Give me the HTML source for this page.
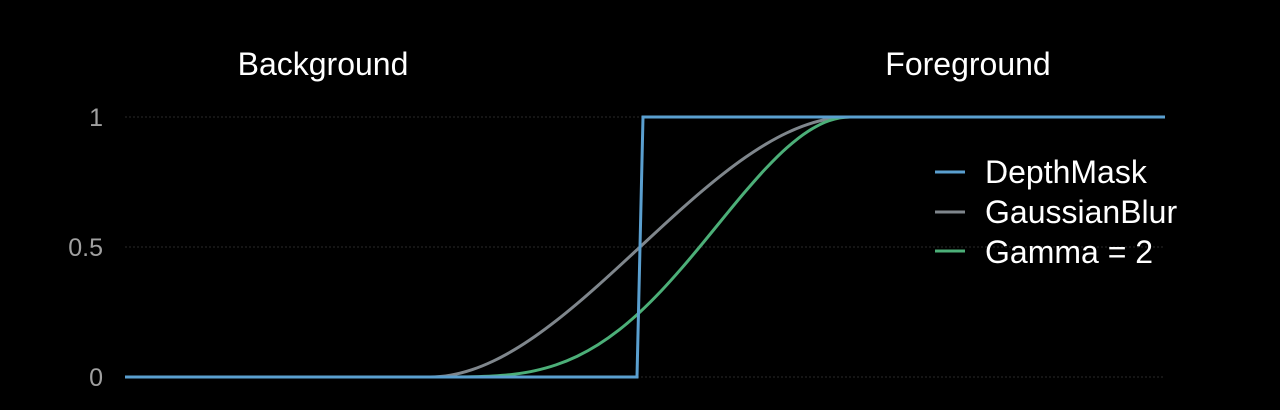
<!DOCTYPE html>
<html><head><meta charset="utf-8"><style>
html,body{margin:0;padding:0;background:#000;width:1280px;height:410px;overflow:hidden}
svg{display:block;font-family:"Liberation Sans",sans-serif}
</style></head><body>
<svg id="chart" width="1280" height="410">
<text x="323" y="75" fill="#fff" font-size="32" text-anchor="middle">Background</text>
<text x="968" y="75" fill="#fff" font-size="32" text-anchor="middle">Foreground</text>
<g id="grid"></g><g id="ticks"></g><g id="series"></g>
<g>
<line x1="935" y1="172" x2="965" y2="172" stroke="#5a9fcf" stroke-width="3"/>
<text x="985" y="183" fill="#fff" font-size="32">DepthMask</text>
<line x1="935" y1="212" x2="965" y2="212" stroke="#7f868c" stroke-width="3"/>
<text x="985" y="223" fill="#fff" font-size="32">GaussianBlur</text>
<line x1="935" y1="251" x2="965" y2="251" stroke="#4caf78" stroke-width="3"/>
<text x="985" y="263" fill="#fff" font-size="32">Gamma = 2</text>
</g>
</svg>
<script>
const tickValues=[0,0.5,1];
const tickLabels=["0","0.5","1"];
const maskX=[0,512,518,1040];
const maskY=[0,0,1,1];
const curveX=[0,305,326,347,368,389,410,431,452,473,494,515,536,557,578,599,620,641,662,683,704,725,1040];
const blurY=[0,0,0.00725,0.028,0.06075,0.104,0.15625,0.216,0.28175,0.352,0.42525,0.5,0.57475,0.648,0.71825,0.784,0.84375,0.896,0.93925,0.972,0.99275,1,1];
const gammaY=[0,0,0.00005,0.0008,0.0037,0.0108,0.0244,0.0467,0.0794,0.1239,0.1808,0.25,0.3303,0.4199,0.5159,0.6147,0.7119,0.8028,0.8822,0.9448,0.9856,1,1];
const sx=t=>125+t;
const sy=v=>377-v*260;
const NS="http://www.w3.org/2000/svg";
const grid=document.getElementById('grid'),ticks=document.getElementById('ticks'),ser=document.getElementById('series');
tickValues.forEach((v,i)=>{
 const l=document.createElementNS(NS,'line');
 l.setAttribute('x1',125);l.setAttribute('x2',1165);l.setAttribute('y1',sy(v));l.setAttribute('y2',sy(v));
 l.setAttribute('stroke','#2a2a2a');l.setAttribute('stroke-dasharray','2 2');
 
 
 grid.appendChild(l);
 const t=document.createElementNS(NS,'text');
 t.setAttribute('x',103);t.setAttribute('y',sy(v)+9);t.setAttribute('text-anchor','end');
 t.setAttribute('fill','#a0a0a0');t.setAttribute('font-size','25');t.textContent=tickLabels[i];
 
 
 ticks.appendChild(t);
});
function monotone(xs,ys){
 const n=xs.length,X=xs.map(sx),Y=ys.map(sy),d=[],m=[];
 for(let i=0;i<n-1;i++)d.push((Y[i+1]-Y[i])/(X[i+1]-X[i]));
 m[0]=d[0];m[n-1]=d[n-2];
 for(let i=1;i<n-1;i++){m[i]=(d[i-1]*d[i]<=0)?0:(d[i-1]+d[i])/2;}
 for(let i=0;i<n-1;i++){
  if(d[i]===0){m[i]=0;m[i+1]=0;continue;}
  const a=m[i]/d[i],b=m[i+1]/d[i],s=a*a+b*b;
  if(s>9){const t=3/Math.sqrt(s);m[i]=t*a*d[i];m[i+1]=t*b*d[i];}
 }
 let p='M'+X[0]+','+Y[0];
 for(let i=0;i<n-1;i++){
  const h=(X[i+1]-X[i])/3;
  p+=` C${X[i]+h},${Y[i]+m[i]*h} ${X[i+1]-h},${Y[i+1]-m[i+1]*h} ${X[i+1]},${Y[i+1]}`;
 }
 return p;
}
function addPath(d,col,name){
 const e=document.createElementNS(NS,'path');
 e.setAttribute('d',d);e.setAttribute('fill','none');e.setAttribute('stroke',col);e.setAttribute('stroke-width','3');
 
 
 ser.appendChild(e);
}
addPath(monotone(curveX,blurY),'#7f868c','gaussianblur-line');
addPath(monotone(curveX,gammaY),'#4caf78','gamma-line');
addPath('M'+maskX.map((x,i)=>sx(x)+','+sy(maskY[i])).join(' L'),'#5a9fcf','depthmask-line');
</script>
</body></html>
